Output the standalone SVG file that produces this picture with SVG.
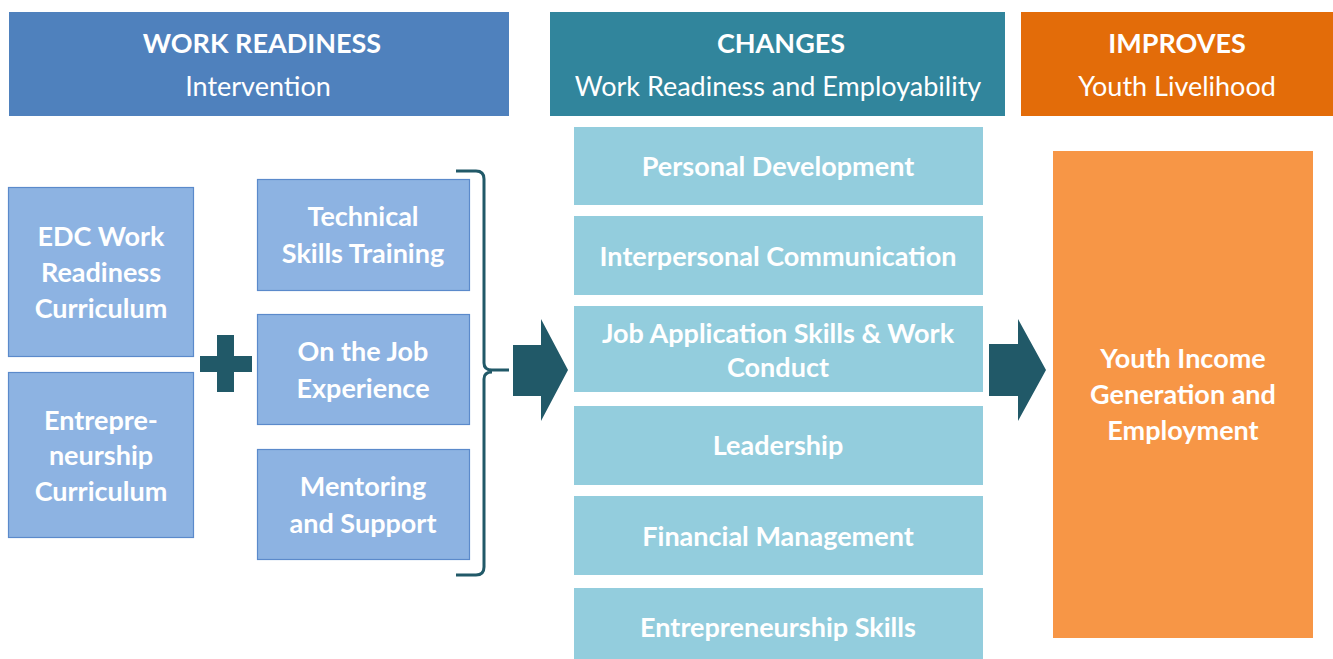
<svg xmlns="http://www.w3.org/2000/svg" width="1333" height="659" viewBox="0 0 1333 659">
<style>
text{font-family:Lato,"Open Sans","Liberation Sans",sans-serif;fill:#fff;text-anchor:middle}
.h1{font-weight:bold;font-size:27px}
.h2{font-size:27px}
.b{font-weight:bold;font-size:27px}
.blue{fill:#8DB3E2;stroke:#5B8ACB;stroke-width:1.2}
.chg{fill:#93CDDD}
.dark{fill:#215968}
</style>
<rect width="1333" height="659" fill="#fff"/>
<g id="hdr-work">
<rect x="9" y="12" width="500" height="104" fill="#4F81BD"/>
<text class="h1" x="262" y="53">WORK READINESS</text>
<text class="h2" x="258" y="96">Intervention</text>
</g>
<g id="hdr-changes">
<rect x="550" y="12" width="455" height="104" fill="#31859C"/>
<text class="h1" x="781" y="53">CHANGES</text>
<text class="h2" x="778" y="96">Work Readiness and Employability</text>
</g>
<g id="hdr-improves">
<rect x="1021" y="12" width="312" height="104" fill="#E36C09"/>
<text class="h1" x="1177" y="53">IMPROVES</text>
<text class="h2" x="1177" y="96">Youth Livelihood</text>
</g>
<g id="edc">
<rect class="blue" x="8.5" y="187.5" width="185" height="169"/>
<text class="b" x="101" y="246">EDC Work</text>
<text class="b" x="101" y="282">Readiness</text>
<text class="b" x="101" y="318">Curriculum</text>
</g>
<g id="entre">
<rect class="blue" x="8.5" y="372.5" width="185" height="165"/>
<text class="b" x="101" y="430">Entrepre-</text>
<text class="b" x="101" y="465">neurship</text>
<text class="b" x="101" y="501">Curriculum</text>
</g>
<g id="plus">
<rect class="dark" x="217" y="335" width="17" height="57"/>
<rect class="dark" x="200" y="356" width="52" height="16"/>
</g>
<g id="tech">
<rect class="blue" x="257.5" y="179.5" width="212" height="111"/>
<text class="b" x="363" y="226">Technical</text>
<text class="b" x="363" y="263">Skills Training</text>
</g>
<g id="ojt">
<rect class="blue" x="257.5" y="314.5" width="212" height="110"/>
<text class="b" x="363" y="361">On the Job</text>
<text class="b" x="363" y="398">Experience</text>
</g>
<g id="mentor">
<rect class="blue" x="257.5" y="449.5" width="212" height="110"/>
<text class="b" x="363" y="496">Mentoring</text>
<text class="b" x="363" y="533">and Support</text>
</g>
<g id="connectors">
<path d="M456 171 H476 Q484 171 484 179 V363 Q484 370 492 370 H509 M492 372 Q484 372 484 379 V567 Q484 575 476 575 H456" fill="none" stroke="#215968" stroke-width="3"/>
<polygon class="dark" points="513,345 541,345 541,319 568,370 541,421 541,396 513,396"/>
<polygon class="dark" points="989,344 1018,344 1018,319 1046,370 1018,421 1018,396 989,396"/>
</g>
<g id="personal">
<rect class="chg" x="574" y="127" width="409" height="78"/>
<text class="b" x="778" y="176">Personal Development</text>
</g>
<g id="interpersonal">
<rect class="chg" x="574" y="216" width="409" height="79"/>
<text class="b" x="778" y="266">Interpersonal Communication</text>
</g>
<g id="jobapp">
<rect class="chg" x="574" y="306" width="409" height="86"/>
<text class="b" x="778" y="343">Job Application Skills &amp; Work</text>
<text class="b" x="778" y="377">Conduct</text>
</g>
<g id="leadership">
<rect class="chg" x="574" y="406" width="409" height="79"/>
<text class="b" x="778" y="455">Leadership</text>
</g>
<g id="financial">
<rect class="chg" x="574" y="496" width="409" height="79"/>
<text class="b" x="778" y="546">Financial Management</text>
</g>
<g id="entreskills">
<rect class="chg" x="574" y="588" width="409" height="71"/>
<text class="b" x="778" y="637">Entrepreneurship Skills</text>
</g>
<g id="youth">
<rect x="1053" y="151" width="260" height="487" fill="#F79646"/>
<text class="b" x="1183" y="368">Youth Income</text>
<text class="b" x="1183" y="404">Generation and</text>
<text class="b" x="1183" y="440">Employment</text>
</g>
</svg>
